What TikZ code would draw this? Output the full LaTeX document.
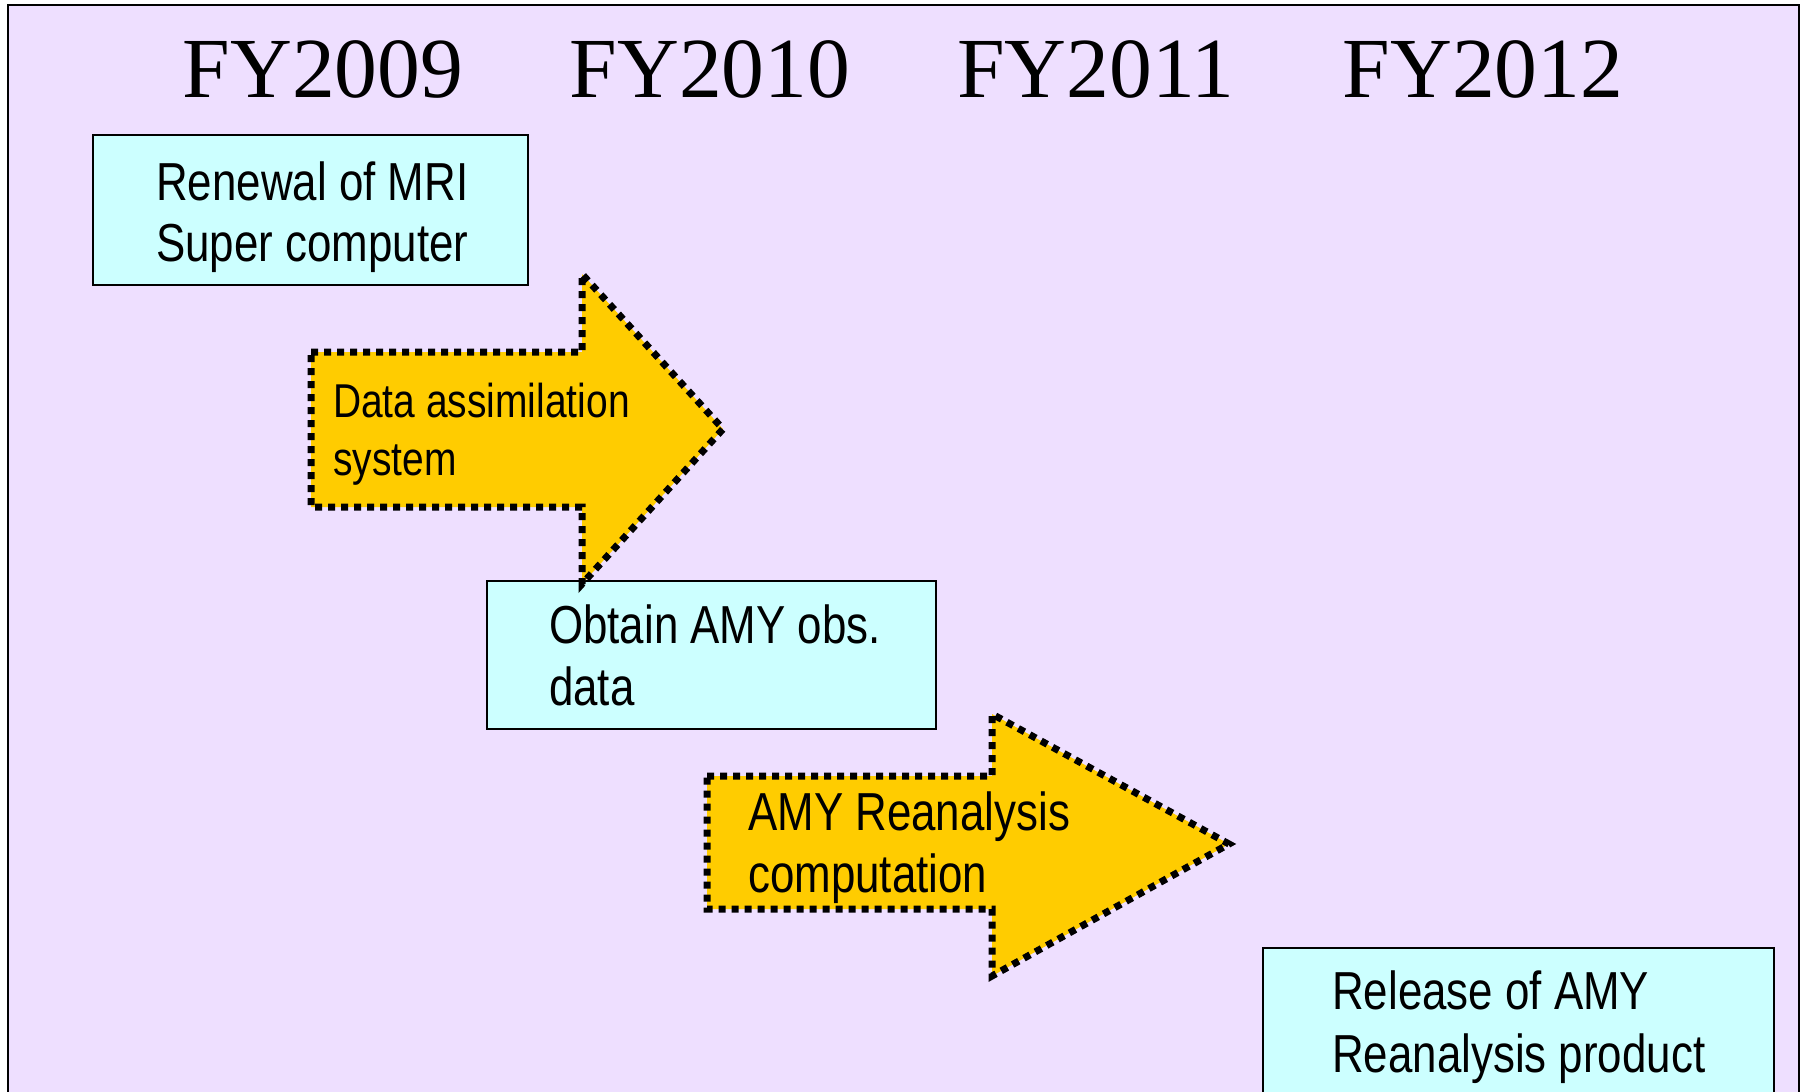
\documentclass[tikz,border=0pt]{standalone}
\usepackage{fontspec}
\newfontfamily\narrowsans[FakeStretch=0.82]{Liberation Sans}
\newfontfamily\titleserif{Liberation Serif}
\definecolor{lavender}{RGB}{238,223,255}
\definecolor{paleaqua}{RGB}{204,255,255}
\definecolor{amber}{RGB}{255,204,0}
\tikzset{
  yearlabel/.style={font=\titleserif\fontsize{85.6}{90}\selectfont, anchor=base, inner sep=0pt},
  boxline/.style={font=\narrowsans\fontsize{53.5}{60}\selectfont, anchor=base west, inner sep=0pt},
  arrowline/.style={font=\narrowsans\fontsize{47.5}{52}\selectfont, anchor=base west, inner sep=0pt},
  taskbox/.style={draw=black, line width=2.2pt, fill=paleaqua, anchor=north west, inner sep=0pt, outer sep=0pt},
  blockarrow/.style={fill=amber, draw=black, line width=7pt, dash pattern=on 7pt off 6pt, line cap=butt, line join=miter}
}
\begin{document}
\begin{tikzpicture}[x=1pt, y=-1pt]
  \useasboundingbox (0,0) rectangle (1804,1092);
  \clip (0,0) rectangle (1804,1092);
  \fill[white] (0,0) rectangle (1804,1092);
  \draw[fill=lavender, line width=2.5pt] (8,5) rectangle (1799,1110);

  % year headings
  \node[yearlabel] (fy09) at (323,97) {FY2009};
  \node[yearlabel] (fy10) at (710,97) {FY2010};
  \node[yearlabel] (fy11) at (1096,97) {FY2011};
  \node[yearlabel] (fy12) at (1483,97) {FY2012};

  % task boxes
  \node[taskbox, minimum width=435pt, minimum height=150pt] (box1) at (93,135) {};
  \node[taskbox, minimum width=449pt, minimum height=148pt] (box2) at (487,581) {};
  \node[taskbox, minimum width=511pt, minimum height=200pt] (box3) at (1263,948) {};

  % block arrows
  \draw[blockarrow] (311,352) -- (582,352) -- (582,274) -- (723,429) -- (582,584) -- (582,507) -- (311,507) -- cycle;
  \draw[blockarrow] (707,776) -- (992,776) -- (992,714) -- (1229,844) -- (992,976) -- (992,909) -- (707,909) -- cycle;

  % texts
  \node[boxline] (t1a) at (156,200) {Renewal of MRI};
  \node[boxline] (t1b) at (156,261) {Super computer};
  \node[arrowline] (a1a) at (333,417) {Data assimilation};
  \node[arrowline] (a1b) at (333,475) {system};
  \node[boxline] (t2a) at (549,643) {Obtain AMY obs.};
  \node[boxline] (t2b) at (549,705) {data};
  \node[boxline] (a2a) at (748,830) {AMY Reanalysis};
  \node[boxline] (a2b) at (748,892) {computation};
  \node[boxline] (t3a) at (1332,1009) {Release of AMY};
  \node[boxline] (t3b) at (1332,1072) {Reanalysis product};
\end{tikzpicture}
\end{document}
